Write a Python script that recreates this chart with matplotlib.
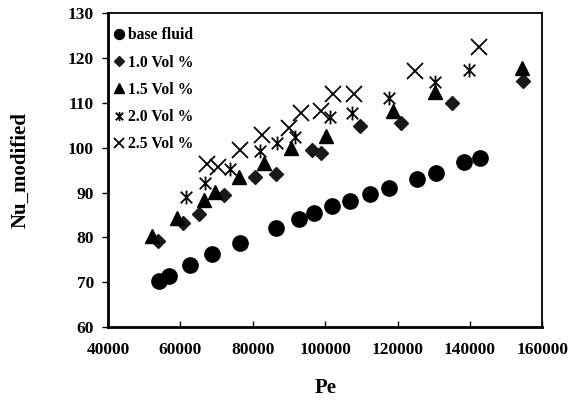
import matplotlib
matplotlib.use("Agg")
import matplotlib.pyplot as plt
from matplotlib.path import Path

plt.rcParams['font.family'] = ['Liberation Serif', 'DejaVu Serif']
plt.rcParams['font.weight'] = 'bold'

# Peclet number and modified Nusselt number per series
pe_base = [54200, 57000, 62800, 68700, 76400, 86500, 92900, 96800, 102000, 106800,
           112400, 117600, 125400, 130500, 138400, 142800]
nu_base = [70.3, 71.4, 73.8, 76.2, 78.7, 82.1, 84.1, 85.4, 86.9, 88.2,
           89.7, 91.1, 93.1, 94.4, 96.9, 97.7]

pe_10 = [53700, 60600, 65100, 72000, 80500, 86500, 96300, 98900, 109500, 120900, 135000, 154700]
nu_10 = [79.1, 83.1, 85.3, 89.4, 93.5, 94.1, 99.4, 98.8, 104.8, 105.6, 110.1, 115.0]

pe_15 = [52300, 59100, 66600, 69700, 76300, 83200, 90500, 100300, 118600, 130300, 154400]
nu_15 = [80.3, 84.3, 88.4, 90.2, 93.4, 96.5, 99.9, 102.6, 108.3, 112.5, 117.7]

pe_20 = [61700, 66900, 73800, 82100, 86600, 91700, 101200, 107400, 117500, 130300, 139800]
nu_20 = [88.9, 92.2, 95.3, 99.2, 101.1, 102.5, 106.8, 107.7, 111.1, 114.7, 117.3]

pe_25 = [67400, 70500, 76600, 82600, 90100, 93400, 98800, 102100, 108000, 124800, 142500]
nu_25 = [96.3, 95.7, 99.5, 102.8, 104.3, 107.8, 108.2, 111.9, 111.9, 117.2, 122.5]

labels = ['base fluid', '1.0 Vol %', '1.5 Vol %', '2.0 Vol %', '2.5 Vol %']

# Asterisk marker: diagonal cross with a vertical stroke
star_path = Path(
    [(-1, -1), (1, 1), (-1, 1), (1, -1), (0, -1.2), (0, 1.2)],
    [Path.MOVETO, Path.LINETO, Path.MOVETO, Path.LINETO, Path.MOVETO, Path.LINETO],
)

fig = plt.figure(figsize=(5.71, 4.07), dpi=100)
ax = fig.add_axes([0.189, 0.197, 0.761, 0.770])

ax.plot(pe_base, nu_base, 'o', color='black', ms=11, ls='none', label=labels[0])
ax.plot(pe_10, nu_10, 'D', color='#1a1a1a', ms=7.5, ls='none', label=labels[1])
ax.plot(pe_15, nu_15, '^', color='black', ms=10, ls='none', label=labels[2])
ax.plot(pe_20, nu_20, ls='none', marker=star_path, color='black', ms=10,
        mew=1.3, mfc='none', label=labels[3])
ax.plot(pe_25, nu_25, 'x', color='black', ms=11.5, mew=1.3, ls='none', label=labels[4])

ax.set_xlim(40000, 160000)
ax.set_ylim(60, 130)
ax.set_xticks(range(40000, 160001, 20000))
ax.set_yticks(range(60, 131, 10))

ax.tick_params(axis='x', direction='in', length=4, width=1, labelsize=12.5, pad=11)
ax.tick_params(axis='y', direction='out', length=4, width=1, labelsize=12.5, pad=6)
for lab in ax.get_xticklabels() + ax.get_yticklabels():
    lab.set_fontweight('bold')

for side in ['left', 'bottom']:
    ax.spines[side].set_linewidth(2)
for side in ['top', 'right']:
    ax.spines[side].set_linewidth(1.3)

ax.set_xlabel('Pe', fontsize=15, fontweight='bold', labelpad=14)
ax.set_ylabel('Nu_modified', fontsize=15, fontweight='bold', labelpad=27)

leg = ax.legend(loc='upper left', bbox_to_anchor=(0.0, 0.971), frameon=False,
                handlelength=0.8, handletextpad=0.2, labelspacing=0.72,
                borderaxespad=0.1, borderpad=0.2, markerscale=0.65,
                prop={'weight': 'bold', 'size': 11.3})

fig.savefig('out.png', dpi=100)
